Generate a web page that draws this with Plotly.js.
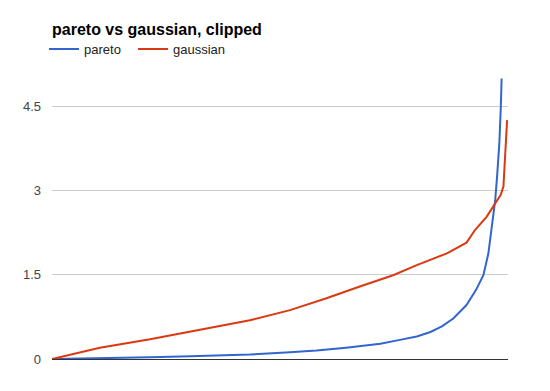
<!DOCTYPE html>
<html>
<head>
<meta charset="utf-8">
<script src="https://cdn.plot.ly/plotly-3.0.1.min.js"></script>
<style>html,body{margin:0;padding:0;background:#fff;}#chart{width:550px;height:391px;}</style>
</head>
<body>
<div id="chart"></div>
<script>
// sample position (percent of sorted samples) and values
const paretoX = [0, 10.5, 21.5, 30.3, 43.4, 52.2, 58, 64.5, 72, 76.3, 80, 83, 85.5, 88, 90.9, 93, 94.6, 95.7, 96.4, 97.2, 97.6, 98.1, 98.4, 98.6];
const paretoY = [0, 0.01, 0.03, 0.05, 0.08, 0.12, 0.15, 0.2, 0.27, 0.34, 0.40, 0.48, 0.58, 0.72, 0.96, 1.23, 1.49, 1.88, 2.35, 2.83, 3.24, 3.84, 4.43, 4.99];
const gaussX = [0, 10.5, 21.5, 30.3, 43.4, 52.2, 60.2, 67.5, 74.8, 80, 86.6, 90.9, 92.8, 95.3, 96.8, 98.4, 99, 99.3, 99.8];
const gaussY = [0, 0.2, 0.35, 0.49, 0.69, 0.87, 1.08, 1.29, 1.49, 1.67, 1.88, 2.07, 2.30, 2.53, 2.71, 2.92, 3.07, 3.54, 4.25];
const seriesNames = ['pareto', 'gaussian'];
const yTicks = [0, 1.5, 3, 4.5];
const yTickText = ['0', '1.5', '3', '4.5'];

const traces = [
  {x: paretoX, y: paretoY, name: seriesNames[0], type: 'scatter', mode: 'lines', line: {color: '#3366cc', width: 2}, legend: 'legend'},
  {x: gaussX, y: gaussY, name: seriesNames[1], type: 'scatter', mode: 'lines', line: {color: '#dc3912', width: 2}, legend: 'legend2'}
];
const legendBase = {orientation: 'h', xanchor: 'left', xref: 'paper', y: 1.103, yanchor: 'middle', font: {size: 13, color: '#222'}, bgcolor: 'rgba(0,0,0,0)'};
const layout = {
  width: 550, height: 391,
  margin: {l: 52, r: 42, t: 78, b: 32},
  paper_bgcolor: '#fff', plot_bgcolor: '#fff',
  font: {family: 'Liberation Sans, Arial, sans-serif', size: 13, color: '#444'},
  title: {text: '<b>pareto vs gaussian, clipped</b>', font: {size: 16, color: '#000'}, xref: 'paper', x: 0, xanchor: 'left', yref: 'container', y: 0.926, yanchor: 'middle'},
  showlegend: true,
  legend: Object.assign({}, legendBase, {x: -0.0175}),
  legend2: Object.assign({}, legendBase, {x: 0.1776}),
  xaxis: {range: [0, 100], showgrid: false, zeroline: false, showticklabels: false, ticks: '', showline: false, fixedrange: true},
  yaxis: {range: [0, 5], tickvals: yTicks, ticktext: yTickText, showgrid: true, gridcolor: '#cccccc', gridwidth: 1, zeroline: true, zerolinecolor: '#333', zerolinewidth: 1, ticks: '', showline: false, ticklabelstandoff: 10, tickfont: {size: 13, color: '#444'}}
};
Plotly.newPlot('chart', traces, layout, {displayModeBar: false, staticPlot: true});
</script>
</body>
</html>
